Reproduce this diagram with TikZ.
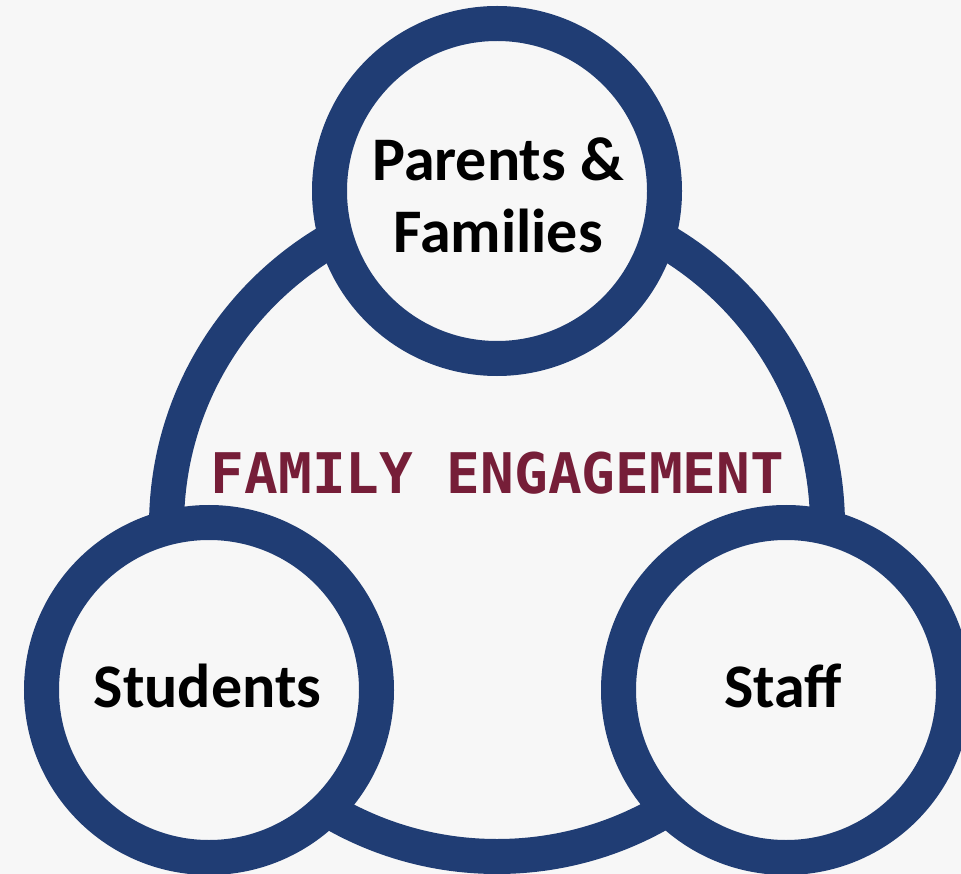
\documentclass[tikz,border=0pt]{standalone}
\usepackage{fontspec}
\setmainfont{Carlito}
\newfontfamily\stencilfont{DejaVu Sans Mono}
\definecolor{ringblue}{HTML}{203D74}
\definecolor{bgcol}{HTML}{F7F7F7}
\definecolor{maroon}{HTML}{761E38}
\begin{document}
\begin{tikzpicture}[x=1pt,y=-1pt,
  ring/.style={circle, draw=ringblue, line width=35pt, fill=bgcol, inner sep=0pt},
  label/.style={anchor=base, inner sep=0pt, font=\fontsize{62}{72}\selectfont\bfseries, text=black},
  title/.style={anchor=base, inner sep=0pt, font=\stencilfont\fontsize{56}{60}\selectfont\bfseries, text=maroon}]
\useasboundingbox (0,0) rectangle (961,874);
\fill[bgcol] (0,0) rectangle (961,874);
\clip (0,0) rectangle (961,874);
\node[ring, minimum size=661pt] (big) at (497,526) {};
\node[ring, minimum size=335pt] (top) at (497,191) {};
\node[ring, minimum size=335pt] (left) at (209,690) {};
\node[ring, minimum size=335pt] (right) at (786,690) {};
\node[label] (t1) at (498,181) {Parents \&};
\node[label] (t2) at (498,253) {Families};
\node[label] (t3) at (207.5,707) {Students};
\node[label] (t4) at (783,707) {Staff};
\node[title] (eng) at (497.5,493) {FAMILY ENGAGEMENT};
\end{tikzpicture}
\end{document}
